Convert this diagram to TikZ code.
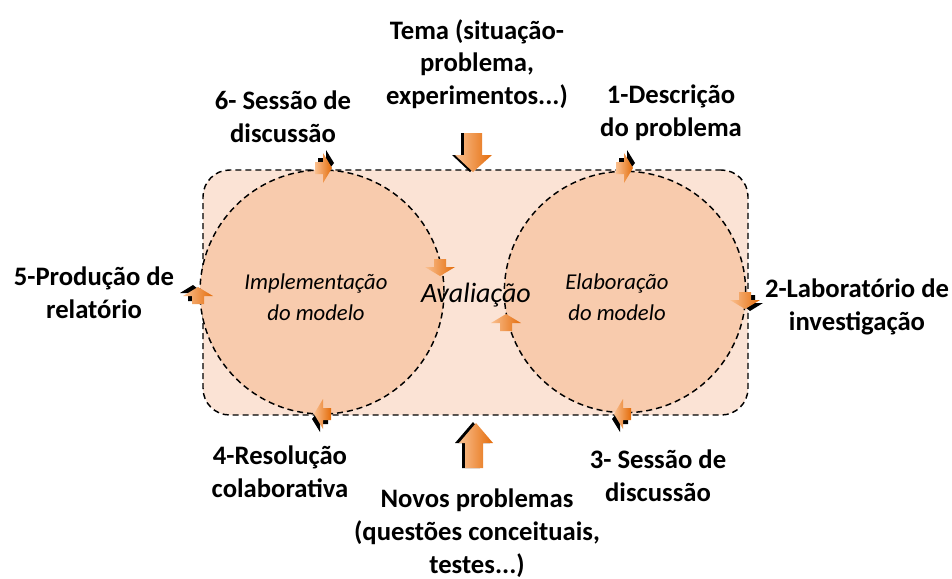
\documentclass[tikz,border=0pt]{standalone}
\usepackage{fontspec}
\setmainfont{Carlito}
\definecolor{rectfill}{HTML}{FBE3D5}
\definecolor{circfill}{HTML}{F8CBAD}
\definecolor{arrlight}{HTML}{FAC090}
\definecolor{arrdark}{HTML}{E46C0A}
\tikzset{
  lbl/.style={font=\bfseries\fontsize{20}{24.5}\selectfont, align=center, inner sep=0pt},
  itl/.style={font=\itshape\fontsize{17}{23.5}\selectfont, align=center, inner sep=0pt},
  dashline/.style={draw=black, line width=1.1pt, dash pattern=on 4.5pt off 3pt},
  pics/sarrow/.style={code={
    \shade[left color=arrlight, right color=arrdark]
      (-9,-6) -- (-1,-6) -- (-1,-15) -- (8,0) -- (-1,15) -- (-1,6) -- (-9,6) -- cycle;
  }},
  pics/sarrowS/.style={code={
    \fill[black] (-6,-10) -- (2,-10) -- (2,-18) -- (10,-5) -- (3,4) -- (-6,4) -- cycle;
    \shade[left color=arrlight, right color=arrdark]
      (-9,-6) -- (-1,-6) -- (-1,-15) -- (8,0) -- (-1,15) -- (-1,6) -- (-9,6) -- cycle;
  }}
}
\begin{document}
\begin{tikzpicture}[x=0.75pt,y=-0.75pt]
\useasboundingbox (0,0) rectangle (952,578);
% box and circles
\node[dashline, fill=rectfill, rounded corners=20pt, minimum width=408.75pt, minimum height=183.75pt] (box) at (475.5,292.5) {};
\node[dashline, fill=circfill, circle, minimum size=183pt, inner sep=0pt] (L) at (322,292) {};
\node[dashline, fill=circfill, circle, minimum size=181pt, inner sep=0pt] (R) at (625,292) {};
% inner texts
\node[itl] (impl) at (316,297) {Implementação\\do modelo};
\node[itl] (elab) at (617,297) {Elaboração\\do modelo};
\node[font=\itshape\fontsize{21}{25}\selectfont, inner sep=0pt] (aval) at (476,295) {Avaliação};
% outer labels
\node[lbl] (tema) at (477,64) {Tema (situação-\\problema,\\experimentos...)};
\node[lbl] (s6) at (283,117) {6- Sessão de\\discussão};
\node[lbl] (s1) at (671,113) {1-Descrição\\do problema};
\node[lbl] (s5) at (94,293) {5-Produção de\\relatório};
\node[lbl] (s2) at (857,307) {2-Laboratório de\\investigação};
\node[lbl] (s4) at (280,472) {4-Resolução\\colaborativa};
\node[lbl] (s3) at (658,476) {3- Sessão de\\discussão};
\node[lbl] (novos) at (477,533) {Novos problemas\\(questões conceituais,\\testes...)};
% big arrows
\fill[black] (461,133) -- (479,133) -- (479,155) -- (488,155) -- (470,172) -- (452,155) -- (461,155) -- cycle;
\shade[left color=arrlight, right color=arrdark] (464,133) -- (482,133) -- (482,155) -- (492,155) -- (473,172) -- (455,155) -- (464,155) -- cycle;
\fill[black] (462,468) -- (480,468) -- (480,443) -- (490,443) -- (473,422) -- (455,443) -- (462,443) -- cycle;
\shade[left color=arrlight, right color=arrdark] (465,468) -- (483,468) -- (483,443) -- (493,443) -- (476,423) -- (459,443) -- (465,443) -- cycle;
% small arrows
\pic[rotate=0] at (324,168) {sarrowS};
\pic[rotate=90] at (198,295) {sarrowS};
\pic[rotate=180] at (322,414) {sarrowS};
\pic[rotate=270] at (440,268) {sarrow};
\pic[rotate=0] at (625,168) {sarrowS};
\pic[rotate=270] at (745,301) {sarrowS};
\pic[rotate=180] at (622,414) {sarrowS};
\pic[rotate=90] at (506,322) {sarrow};
\end{tikzpicture}
\end{document}
